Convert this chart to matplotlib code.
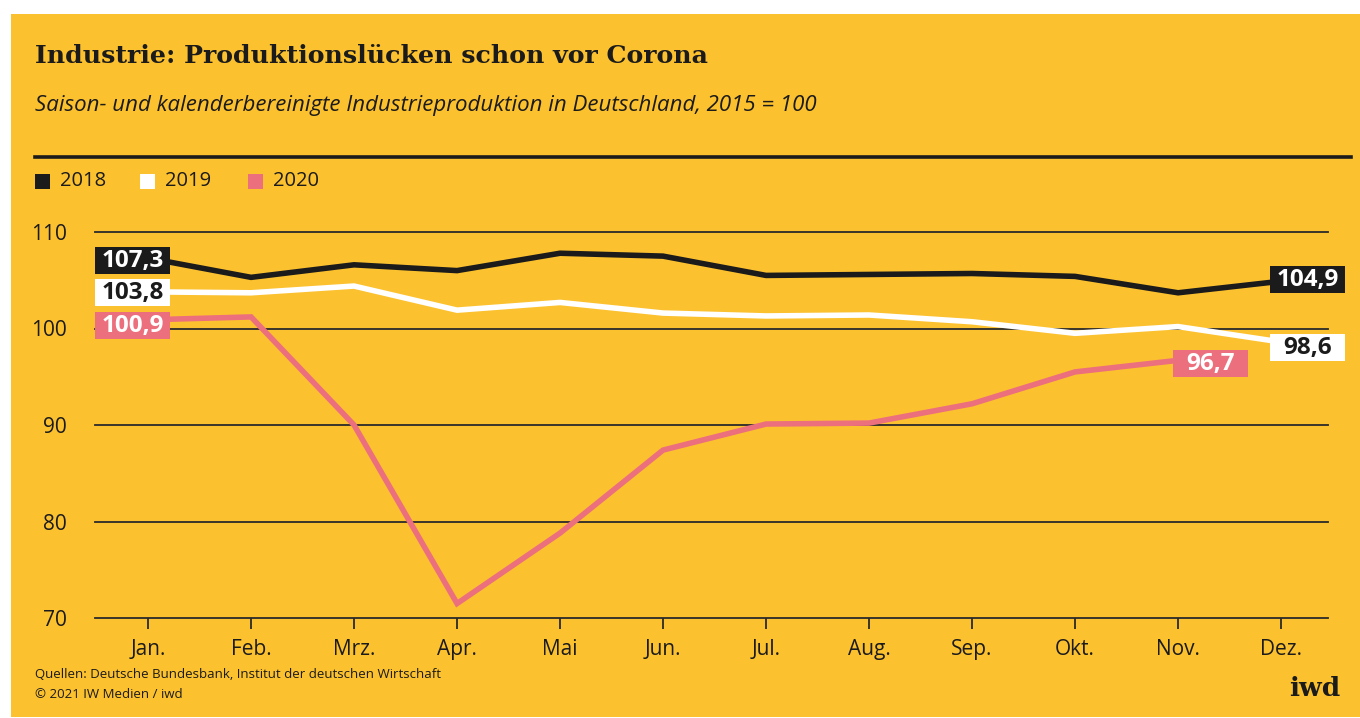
import matplotlib.pyplot as plt
from matplotlib.patches import Rectangle

YELLOW = "#FCC12F"
PINK = "#EC6F7E"
DARK = "#1b1b1b"
plt.rcParams["font.family"] = ["Open Sans", "DejaVu Sans"]

months = ["Jan.", "Feb.", "Mrz.", "Apr.", "Mai", "Jun.", "Jul.", "Aug.", "Sep.", "Okt.", "Nov.", "Dez."]
y2018 = [107.3, 105.3, 106.6, 106.0, 107.8, 107.5, 105.5, 105.6, 105.7, 105.4, 103.7, 104.9]
y2019 = [103.8, 103.7, 104.4, 101.9, 102.7, 101.6, 101.3, 101.4, 100.7, 99.5, 100.2, 98.6]
y2020 = [100.9, 101.2, 90.0, 71.5, 78.8, 87.4, 90.1, 90.2, 92.2, 95.5, 96.7]
yticks = [70, 80, 90, 100, 110]

fig = plt.figure(figsize=(13.6, 7.18), dpi=100)
fig.patch.set_facecolor("white")
fig.patches.append(Rectangle((11 / 1360, 0.002), 1, 1 - 14 / 718 - 0.002,
                             transform=fig.transFigure, facecolor=YELLOW, edgecolor="none", zorder=-5))

ax = fig.add_axes([95 / 1360, 1 - 618 / 718, (1328 - 95) / 1360, (618 - 232) / 718])
ax.set_facecolor("none")
ax.set_xlim(-0.515, 11.456)
ax.set_ylim(70, 110)
for s in ax.spines.values():
    s.set_visible(False)
for t in yticks:
    ax.axhline(t, color="#2a2a2a", lw=1.3, zorder=1, clip_on=False)

x = list(range(12))
ax.plot(x, y2018, color=DARK, lw=4, solid_joinstyle="miter", zorder=3)
ax.plot(x, y2019, color="white", lw=4, solid_joinstyle="miter", zorder=3)
ax.plot(x[:len(y2020)], y2020, color=PINK, lw=4, solid_joinstyle="miter", zorder=3)

ax.set_xticks(x)
ax.set_xticklabels(months, fontsize=15, color=DARK)
ax.set_yticks(yticks)
ax.set_yticklabels([str(t) for t in yticks], fontsize=15, color=DARK)
ax.tick_params(axis="x", length=8, width=1.3, color="#2a2a2a", pad=7)
ax.tick_params(axis="y", length=0, pad=20)

# value boxes (fixed width, 75 px)
bw = 75 / 103
bh = 27 / 9.65


def box(xc, yc, txt, fc, tc):
    ax.add_patch(Rectangle((xc - bw / 2, yc - bh / 2), bw, bh, facecolor=fc,
                           edgecolor="none", zorder=5, clip_on=False))
    ax.text(xc, yc - 0.05, txt, ha="center", va="center", fontsize=17.5,
            fontweight="bold", color=tc, zorder=6, clip_on=False)


def fmt(v):
    return f"{v:.1f}".replace(".", ",")


box(-0.15, y2018[0] - 0.3, fmt(y2018[0]), DARK, "white")
box(-0.15, y2019[0] - 0.1, fmt(y2019[0]), "white", DARK)
box(-0.15, y2020[0] - 0.6, fmt(y2020[0]), PINK, "white")
box(11.26, y2018[-1] + 0.2, fmt(y2018[-1]), DARK, "white")
box(11.26, y2019[-1] - 0.6, fmt(y2019[-1]), "white", DARK)
box(10.32, y2020[-1] - 0.3, fmt(y2020[-1]), PINK, "white")

# header
fig.text(35 / 1360, 1 - 56 / 718, "Industrie: Produktionslücken schon vor Corona",
         fontsize=18.2, fontweight="bold", family="DejaVu Serif", color=DARK, va="center")
fig.text(35 / 1360, 1 - 105 / 718,
         "Saison- und kalenderbereinigte Industrieproduktion in Deutschland, 2015 = 100",
         fontsize=16, style="italic", color=DARK, va="center")
fig.add_artist(plt.Line2D([35 / 1360, 1351 / 1360], [1 - 157 / 718] * 2, color=DARK, lw=2.6))

# legend
for xs, lab, c in [(35, "2018", DARK), (140, "2019", "white"), (248, "2020", PINK)]:
    fig.patches.append(Rectangle((xs / 1360, 1 - 189 / 718), 15 / 1360, 15 / 718,
                                 transform=fig.transFigure, facecolor=c, edgecolor="none"))
    fig.text((xs + 25) / 1360, 1 - 181 / 718, lab, fontsize=14.5, color=DARK, va="center")

# footer
fig.text(35 / 1360, 1 - 675 / 718, "Quellen: Deutsche Bundesbank, Institut der deutschen Wirtschaft",
         fontsize=9.5, color=DARK, va="center")
fig.text(35 / 1360, 1 - 694 / 718, "© 2021 IW Medien / iwd", fontsize=9.5, color=DARK, va="center")
fig.text(1340 / 1360, 1 - 688 / 718, "iwd", fontsize=19, fontweight="bold",
         family="DejaVu Serif", color=DARK, ha="right", va="center")

fig.savefig("out.png", dpi=100, facecolor=fig.get_facecolor())
